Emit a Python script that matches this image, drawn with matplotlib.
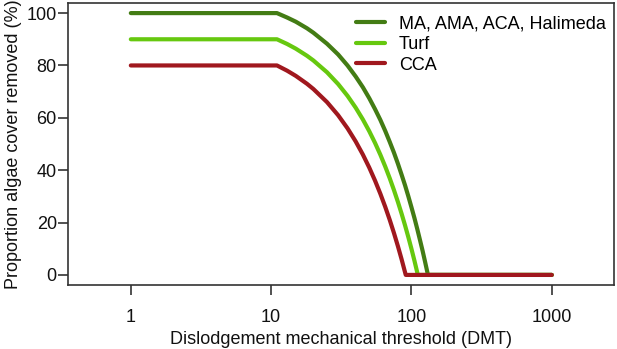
import matplotlib
matplotlib.use("Agg")
import matplotlib.pyplot as plt

plt.rcParams['font.family'] = ['Liberation Sans', 'DejaVu Sans']

# Values (x = DMT, y = % cover removed)
dmt_ma = [1, 11, 13, 15, 18, 20, 25, 30, 35, 40, 45, 50, 55, 60, 65, 70, 75, 80,
          85, 90, 95, 100, 105, 110, 115, 120, 125, 131, 1000]
pct_ma = [100, 100, 98.3, 96.7, 94.2, 92.5, 88.3, 84.2, 80.0, 75.8, 71.7, 67.5,
          63.3, 59.2, 55.0, 50.8, 46.7, 42.5, 38.3, 34.2, 30.0, 25.8, 21.7, 17.5,
          13.3, 9.2, 5.0, 0, 0]

dmt_turf = [1, 11, 13, 15, 18, 20, 25, 30, 35, 40, 45, 50, 55, 60, 65, 70, 75, 80,
            85, 90, 95, 100, 105, 111, 1000]
pct_turf = [90, 90, 88.2, 86.4, 83.7, 81.9, 77.4, 72.9, 68.4, 63.9, 59.4, 54.9,
            50.4, 45.9, 41.4, 36.9, 32.4, 27.9, 23.4, 18.9, 14.4, 9.9, 5.4, 0, 0]

dmt_cca = [1, 11, 13, 15, 18, 20, 25, 30, 35, 40, 45, 50, 55, 60, 65, 70, 75, 80,
           85, 91, 1000]
pct_cca = [80, 80, 78, 76, 73, 71, 66, 61, 56, 51, 46, 41, 36, 31, 26, 21, 16, 11,
           6, 0, 0]

labels = ["MA, AMA, ACA, Halimeda", "Turf", "CCA"]
colors = ["#437C14", "#66C80F", "#A0181E"]

x_ticks = [1, 10, 100, 1000]
x_ticklabels = ["1", "10", "100", "1000"]
y_ticks = [0, 20, 40, 60, 80, 100]

fig = plt.figure(figsize=(6.17, 3.49), dpi=100)
ax = fig.add_axes([0.110, 0.183, 0.885, 0.808])

series = [(dmt_ma, pct_ma), (dmt_turf, pct_turf), (dmt_cca, pct_cca)]
for (xs, ys), lab, col in zip(series, labels, colors):
    ax.plot(xs, ys, color=col, lw=3, label=lab, solid_capstyle='round',
            solid_joinstyle='round')

ax.set_xscale('log')
ax.set_xlim(0.356, 2770)
ax.set_ylim(-3.9, 103.8)
ax.set_xticks(x_ticks)
ax.set_xticklabels(x_ticklabels)
ax.minorticks_off()
ax.set_yticks(y_ticks)

for s in ax.spines.values():
    s.set_color('#333333')
    s.set_linewidth(1.2)
ax.tick_params(axis='both', length=7, width=1.2, color='#333333',
               labelsize=13, labelcolor='#111111')
ax.tick_params(axis='x', pad=10)
ax.tick_params(axis='y', pad=1)

ax.set_xlabel("Dislodgement mechanical threshold (DMT)", fontsize=13,
              color='#111111', labelpad=4)
ax.set_ylabel("Proportion algae cover removed (%)", fontsize=13,
              color='#111111', labelpad=3)

ax.legend(loc='upper right', frameon=False, fontsize=13, handlelength=1.6,
          handletextpad=0.75, labelspacing=0.2, borderaxespad=0.05,
          bbox_to_anchor=(1.0, 0.985))

fig.savefig("out.png", dpi=100)
